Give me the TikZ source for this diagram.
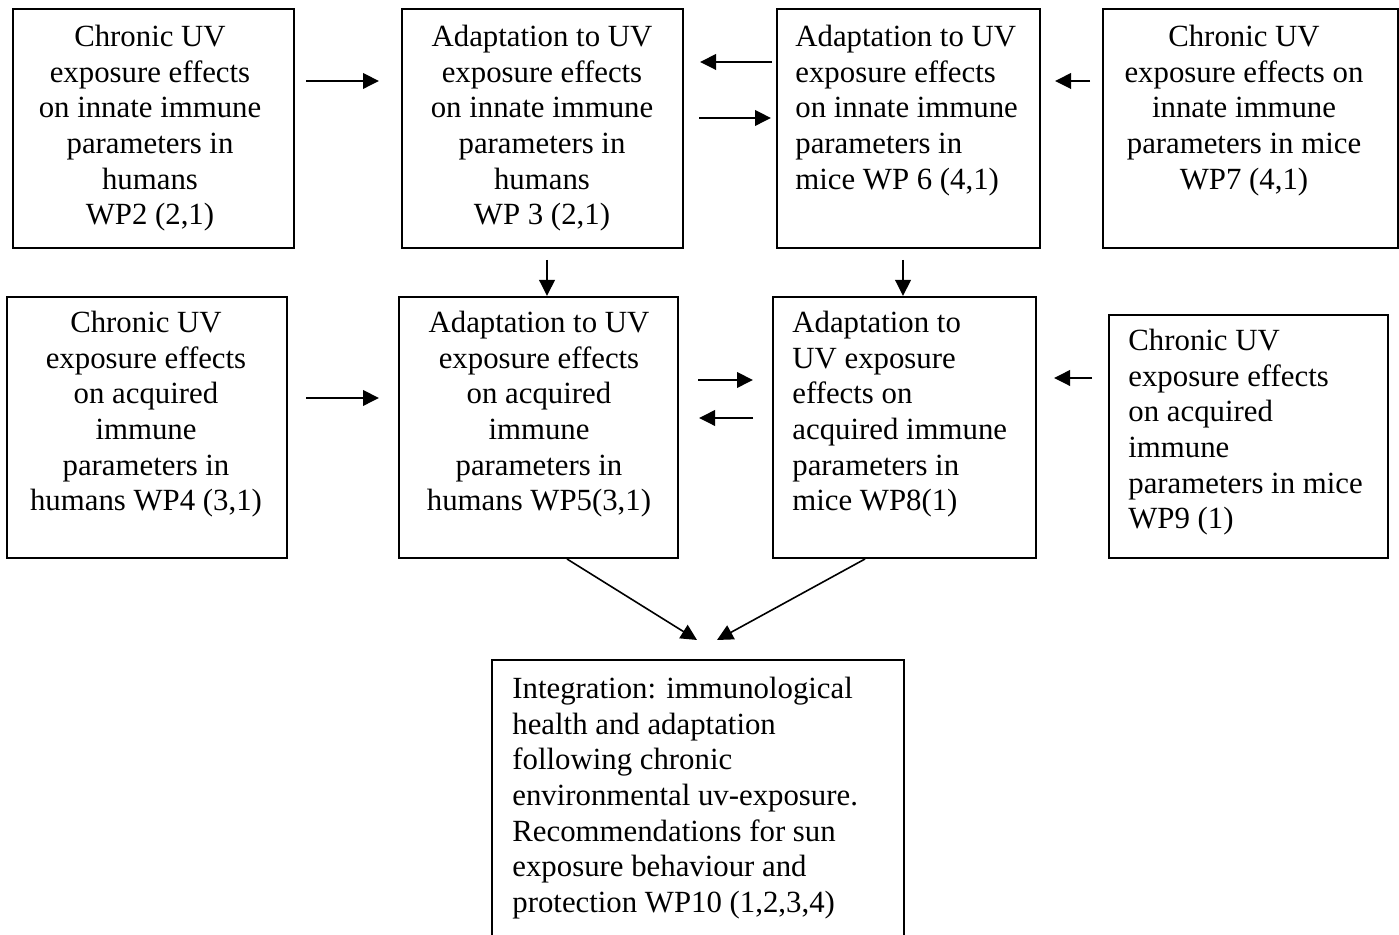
\documentclass[tikz,border=0pt]{standalone}
\usepackage{fontspec}
\setmainfont{Liberation Serif}
\usetikzlibrary{arrows.meta,calc}

\tikzset{
    wpbox/.style={draw, line width=1pt, inner sep=0pt, anchor=north west},
    wptext/.style={inner sep=0pt, align=center, anchor=north, font=\fontsize{15.4}{17.8}\selectfont},
    wpleft/.style={wptext, align=left, anchor=north west},
    arr/.style={line width=0.8pt, -{Triangle[length=8pt,width=7.8pt]}}
}

\begin{document}
\begin{tikzpicture}[x=0.5pt, y=-0.5pt]

    \useasboundingbox (0,0) rectangle (1399,935);

    \node[wpbox, minimum width=140.5pt, minimum height=119.5pt] (a) at (12,8) {};
    \node[wpbox, minimum width=140.5pt, minimum height=119.5pt] (b) at (401,8) {};
    \node[wpbox, minimum width=131.5pt, minimum height=119.5pt] (c) at (776,8) {};
    \node[wpbox, minimum width=147.5pt, minimum height=119.5pt] (d) at (1102,8) {};
    \node[wpbox, minimum width=140pt, minimum height=130.5pt] (e) at (6,296) {};
    \node[wpbox, minimum width=139.5pt, minimum height=130.5pt] (f) at (398,296) {};
    \node[wpbox, minimum width=131.5pt, minimum height=130.5pt] (g) at (772,296) {};
    \node[wpbox, minimum width=139.5pt, minimum height=121.5pt] (h) at (1108,314) {};
    \node[wpbox, minimum width=206pt, minimum height=143pt] (i) at (491,659) {};

    \node[wptext] (a-txt) at (150,25) {Chronic UV\\exposure effects\\on innate immune\\parameters in\\humans\\WP2 (2,1)};
    \node[wptext] (b-txt) at (542,25) {Adaptation to UV\\exposure effects\\on innate immune\\parameters in\\humans\\WP 3 (2,1)};
    \node[wpleft] (c-txt) at (795,25) {Adaptation to UV\\exposure effects\\on innate immune\\parameters in\\mice WP 6 (4,1)};
    \node[wptext] (d-txt) at (1244,25) {Chronic UV\\exposure effects on\\innate immune\\parameters in mice\\WP7 (4,1)};
    \node[wptext] (e-txt) at (146,311) {Chronic UV\\exposure effects\\on acquired\\immune\\parameters in\\humans WP4 (3,1)};
    \node[wptext] (f-txt) at (539,311) {Adaptation to UV\\exposure effects\\on acquired\\immune\\parameters in\\humans WP5(3,1)};
    \node[wpleft] (g-txt) at (792,311) {Adaptation to\\UV exposure\\effects on\\acquired immune\\parameters in\\mice WP8(1)};
    \node[wpleft] (h-txt) at (1128,329) {Chronic UV\\exposure effects\\on acquired\\immune\\parameters in mice\\WP9 (1)};
    \node[wpleft] (i-txt) at (512,677) {Integration: immunological\\health and adaptation\\following chronic\\environmental uv-exposure.\\Recommendations for sun\\exposure behaviour and\\protection WP10 (1,2,3,4)};

    \draw[arr] ($(a.north east)+(11,73)$) -- ($(b.north west)+(-22,73)$);
    \draw[arr] ($(c.north west)+(-4,54)$) -- ($(b.north east)+(16,54)$);
    \draw[arr] ($(b.north east)+(15,110)$) -- ($(c.north west)+(-5,110)$);
    \draw[arr] ($(d.north west)+(-12,73)$) -- ($(c.north east)+(14,73)$);
    \draw[arr] ($(b.south west)+(146,11)$) -- ($(f.north west)+(149,0)$);
    \draw[arr] ($(c.south west)+(127,11)$) -- ($(g.north west)+(131,0)$);
    \draw[arr] ($(e.north east)+(18,102)$) -- ($(f.north west)+(-19,102)$);
    \draw[arr] ($(f.north east)+(19,84)$) -- ($(g.north west)+(-19,84)$);
    \draw[arr] ($(g.north west)+(-19,122)$) -- ($(f.north east)+(20,122)$);
    \draw[arr] ($(h.north west)+(-16,64)$) -- ($(g.north east)+(17,82)$);
    \draw[arr] ($(f.south west)+(169,0)$) -- ($(i.north west)+(206,-19)$);
    \draw[arr] ($(g.south west)+(93,0)$) -- ($(i.north west)+(226,-19)$);

\end{tikzpicture}
\end{document}
